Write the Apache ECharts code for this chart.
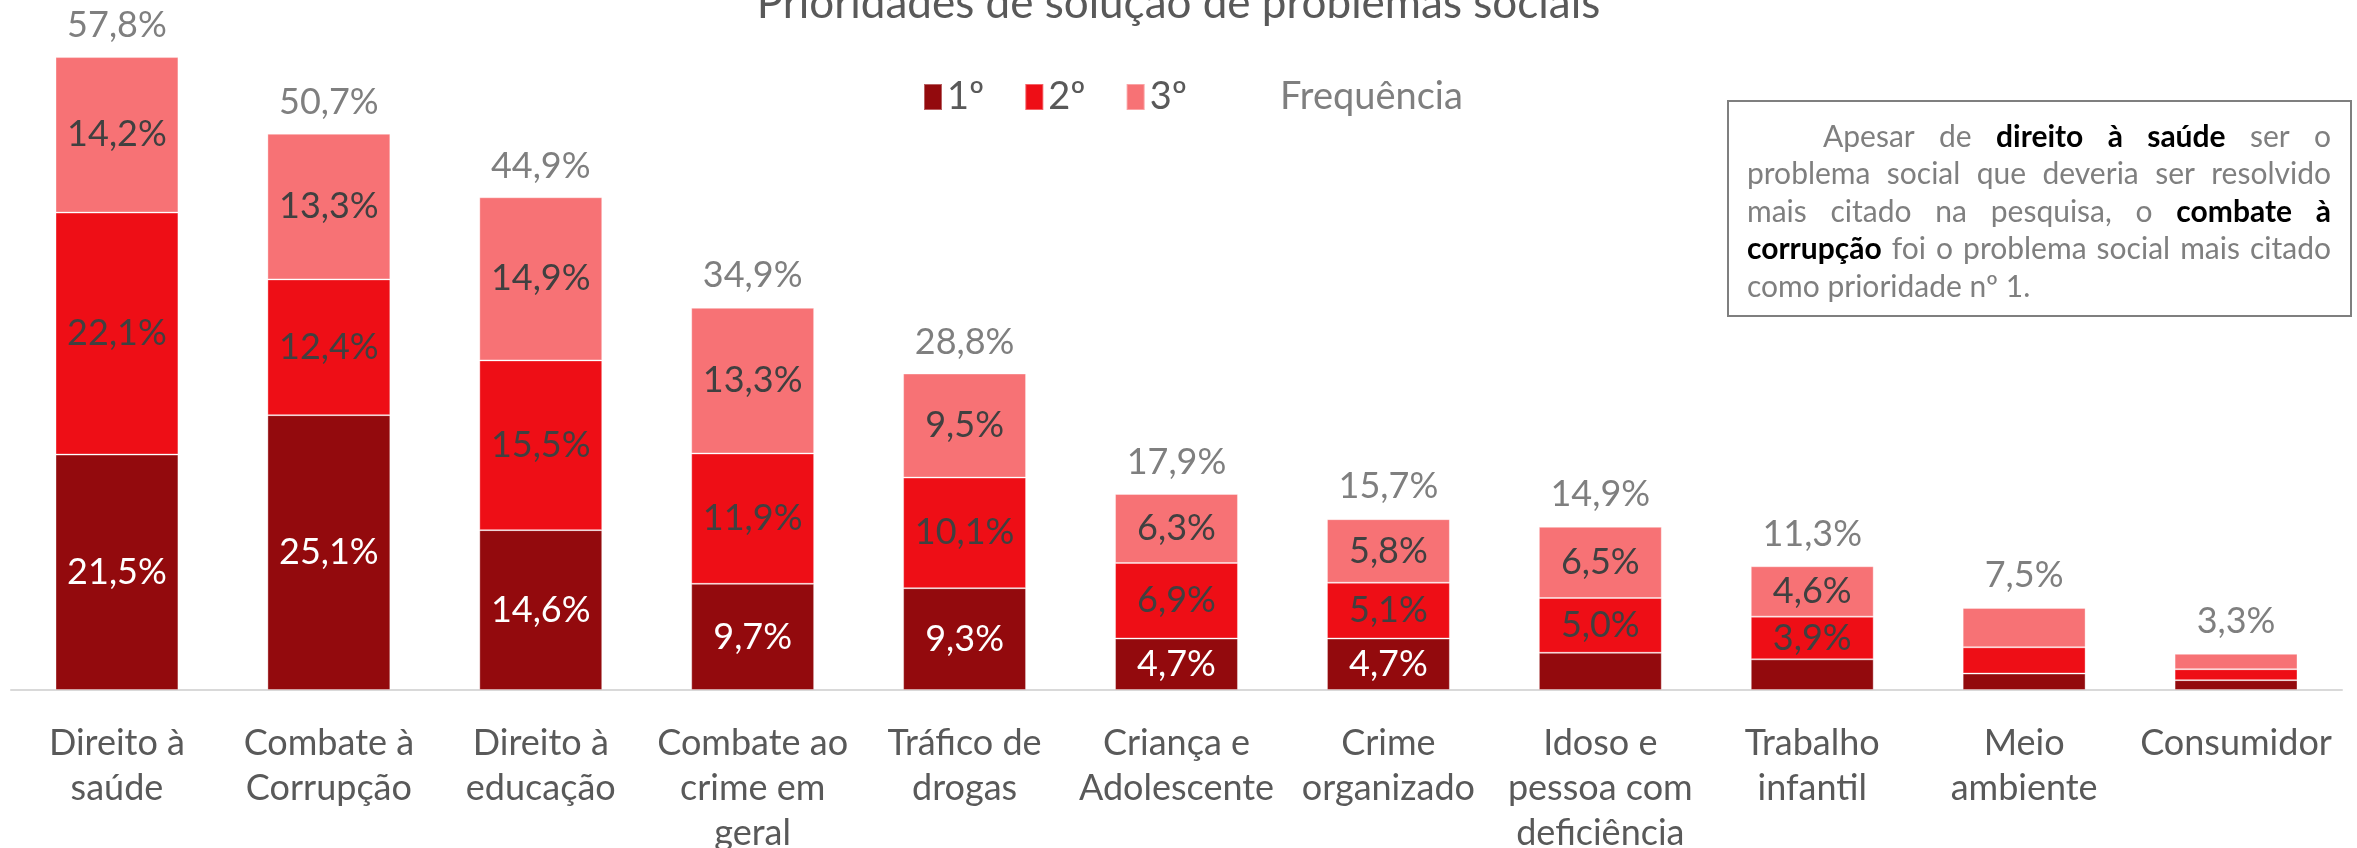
<!DOCTYPE html>
<html>
<head>
<meta charset="utf-8">
<script src="https://cdn.jsdelivr.net/npm/echarts@6/dist/echarts.min.js"></script>
<style>
  html, body { margin: 0; padding: 0; background: #fff; }
  #chart-container { width: 2357px; height: 848px; }
</style>
</head>
<body>
<div id="chart-container"></div>
<script>
var categories = [
  "Direito à\nsaúde", "Combate à\nCorrupção", "Direito à\neducação", "Combate ao\ncrime em\ngeral",
  "Tráfico de\ndrogas", "Criança e\nAdolescente", "Crime\norganizado", "Idoso e\npessoa com\ndeficiência",
  "Trabalho\ninfantil", "Meio\nambiente", "Consumidor"
];
var first = [21.5, 25.1, 14.6, 9.7, 9.3, 4.7, 4.7, 3.4, 2.8, 1.5, 0.9];
var second = [22.1, 12.4, 15.5, 11.9, 10.1, 6.9, 5.1, 5.0, 3.9, 2.4, 1.0];
var third = [14.2, 13.3, 14.9, 13.3, 9.5, 6.3, 5.8, 6.5, 4.6, 3.6, 1.4];
var frequency = [57.8, 50.7, 44.9, 34.9, 28.8, 17.9, 15.7, 14.9, 11.3, 7.5, 3.3];

var noteLines = [
  "Apesar de **direito à saúde** ser o",
  "problema social que deveria ser resolvido",
  "mais citado na pesquisa, o **combate à**",
  "**corrupção** foi o problema social mais citado",
  "como prioridade nº 1."
];

var font = "'Lato', sans-serif";

var dom = document.getElementById("chart-container");
var myChart = echarts.init(dom, null, { renderer: "canvas" });

function pct(v) {
  return v.toFixed(1).replace(".", ",") + "%";
}

// inner labels are only drawn when the piece is tall enough
function inner(p) {
  return p.value >= 3.8 ? pct(p.value) : "";
}

// justified note text, placed word by word
var noteSize = 30;
var measureCtx = document.createElement("canvas").getContext("2d");
function wordWidth(w, bold) {
  measureCtx.font = (bold ? "bold " : "") + noteSize + "px " + font;
  return measureCtx.measureText(w).width;
}
function noteElements() {
  var left = 1747, right = 2331, top = 137, step = 37.5, indent = 76;
  var els = [];
  noteLines.forEach(function (line, i) {
    var words = [];
    line.split("**").forEach(function (seg, k) {
      seg.split(" ").forEach(function (w) {
        if (w) words.push({ w: w, bold: k % 2 === 1 });
      });
    });
    var x0 = i === 0 ? left + indent : left;
    var total = 0;
    words.forEach(function (o) { o.width = wordWidth(o.w, o.bold); total += o.width; });
    var last = i === noteLines.length - 1;
    var gap = last ? wordWidth(" ", false) : (right - x0 - total) / (words.length - 1);
    var x = x0;
    words.forEach(function (o) {
      els.push({
        type: "text",
        x: x,
        y: top + i * step,
        style: {
          text: o.w,
          font: (o.bold ? "bold " : "") + noteSize + "px " + font,
          fill: o.bold ? "#000000" : "#7f7f7f",
          verticalAlign: "middle"
        }
      });
      x += o.width + gap;
    });
  });
  return els;
}

var barBase = {
  type: "bar",
  stack: "total",
  barWidth: "58%",
  itemStyle: { borderColor: "rgba(255,255,255,0.35)", borderWidth: 1 }
};

var legendBase = {
  top: 73,
  itemWidth: 18,
  itemHeight: 26,
  itemGap: 40,
  textStyle: { fontSize: 38, color: "#595959", fontFamily: font }
};

var option = {
  textStyle: { fontFamily: font },
  title: {
    text: "Prioridades de solução de problemas sociais",
    left: "center",
    top: -23,
    textStyle: { fontSize: 44, fontWeight: "normal", color: "#595959", fontFamily: font }
  },
  legend: [
    Object.assign({}, legendBase, {
      left: 918,
      data: [
        { name: "1º", icon: "rect" },
        { name: "2º", icon: "rect" },
        { name: "3º", icon: "rect" }
      ]
    }),
    Object.assign({}, legendBase, {
      left: 1252,
      data: [
        { name: "Frequência", icon: "rect", itemStyle: { opacity: 0 }, textStyle: { color: "#7f7f7f" } }
      ]
    })
  ],
  grid: { left: 11, right: 15, top: 33, bottom: 158, containLabel: false, outerBoundsMode: "none" },
  xAxis: {
    type: "category",
    data: categories,
    axisTick: { show: false },
    axisLine: { lineStyle: { color: "#d9d9d9", width: 2 } },
    axisLabel: {
      interval: 0,
      margin: 31,
      fontSize: 36,
      lineHeight: 45,
      color: "#595959",
      verticalAlign: "top",
      fontFamily: font
    }
  },
  yAxis: { type: "value", min: 0, max: 60, show: false, splitLine: { show: false } },
  graphic: {
    elements: [
      {
        type: "rect",
        shape: { x: 1728, y: 101, width: 623, height: 215 },
        style: { fill: "#ffffff", stroke: "#7f7f7f", lineWidth: 2 }
      }
    ].concat(noteElements())
  },
  series: [
    Object.assign({}, barBase, {
      name: "1º",
      data: first,
      itemStyle: Object.assign({}, barBase.itemStyle, { color: "#930a0d" }),
      label: { show: true, position: "inside", formatter: inner, fontSize: 36, color: "#ffffff", fontFamily: font }
    }),
    Object.assign({}, barBase, {
      name: "2º",
      data: second,
      itemStyle: Object.assign({}, barBase.itemStyle, { color: "#ee0e16" }),
      label: { show: true, position: "inside", formatter: inner, fontSize: 36, color: "#404040", fontFamily: font }
    }),
    Object.assign({}, barBase, {
      name: "3º",
      data: third,
      itemStyle: Object.assign({}, barBase.itemStyle, { color: "#f77275" }),
      label: { show: true, position: "inside", formatter: inner, fontSize: 36, color: "#404040", fontFamily: font }
    }),
    {
      name: "Frequência",
      type: "line",
      data: frequency,
      symbol: "circle",
      symbolSize: 0.01,
      showSymbol: true,
      lineStyle: { opacity: 0 },
      itemStyle: { color: "#7f7f7f" },
      z: 5,
      label: {
        show: true,
        position: "top",
        distance: 14,
        formatter: function (p) { return pct(p.value); },
        fontSize: 36,
        color: "#7f7f7f",
        fontFamily: font
      }
    }
  ]
};

if (option && typeof option === "object") {
  myChart.setOption(option);
}

window.addEventListener("resize", myChart.resize);
</script>
</body>
</html>
